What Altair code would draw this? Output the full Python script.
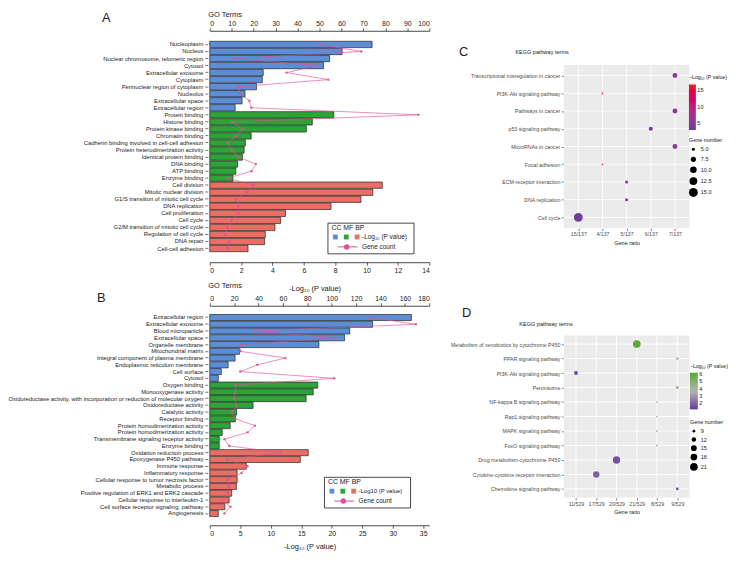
import altair as alt
import pandas as pd

FONT = "Liberation Sans"
DARK = "#1a1a1a"
BLUE, GREEN, RED, PINK = "#5b8ed6", "#2ea338", "#eb6e64", "#dd4f97"

# ---------------- Panel A data ----------------
a_terms = ["Nucleoplasm", "Nucleus", "Nuclear chromosome, telomeric region", "Cytosol",
           "Extracellular exosome", "Cytoplasm", "Perinuclear region of cytoplasm", "Nucleolus",
           "Extracellular space", "Extracellular region",
           "Protein binding", "Histone binding", "Protein kinase binding", "Chromatin binding",
           "Cadherin binding involved in cell-cell adhesion", "Protein heterodimerization activity",
           "Identical protein binding", "DNA binding", "ATP binding", "Enzyme binding",
           "Cell division", "Mitotic nuclear division", "G1/S transition of mitotic cell cycle",
           "DNA replication", "Cell proliferation", "Cell cycle",
           "G2/M transition of mitotic cell cycle", "Regulation of cell cycle", "DNA repair",
           "Cell-cell adhesion"]
a_cat = ["CC"] * 10 + ["MF"] * 10 + ["BP"] * 10
a_logp = [10.35, 8.44, 7.64, 7.25, 3.41, 3.35, 2.98, 2.25, 2.06, 1.62,
          7.91, 6.54, 6.16, 2.64, 2.27, 2.19, 2.08, 1.77, 1.66, 1.48,
          11.0, 10.4, 9.64, 7.73, 4.83, 4.52, 4.16, 3.54, 3.50, 2.44]
a_count = [50, 69, 11, 49, 35, 54, 13, 14, 18, 19,
           95, 10, 15, 12, 8, 10, 13, 21, 19, 8,
           20, 17, 12, 13, 13, 10, 8, 7, 9, 8]

# ---------------- Panel B data ----------------
b_terms = ["Extracellular region", "Extracellular exosome", "Blood microparticle",
           "Extracellular space", "Organelle membrane", "Mitochondrial matrix",
           "Integral component of plasma membrane", "Endoplasmic reticulum membrane",
           "Cell surface", "Cytosol",
           "Oxygen binding", "Monooxygenase activity",
           "Oxidoreductase activity, with incorporation or reduction of molecular oxygen",
           "Oxidoreductase activity", "Catalytic activity", "Receptor binding",
           "Protein homodimerization activity", "Protein homodimerization activity\u200b",
           "Transmembrane signaling receptor activity", "Enzyme binding",
           "Oxidation reduction process", "Epoxygenase P450 pathway", "Immune response",
           "Inflammatory response", "Cellular response to tumor necrosis factor",
           "Metabolic process", "Positive regulation of ERK1 and ERK2 cascade",
           "Cellular response to interleukin-1", "Cell surface receptor signaling, pathway",
           "Angiogenesis"]
b_cat = ["CC"] * 10 + ["MF"] * 10 + ["BP"] * 10
b_logp = [33.06, 26.7, 22.95, 22.1, 17.9, 4.86, 4.15, 3.02, 1.89, 1.4,
          17.7, 16.96, 15.8, 7.1, 4.4, 4.2, 3.35, 2.05, 1.56, 1.56,
          16.15, 14.85, 6.0, 4.48, 4.5, 4.37, 3.6, 3.18, 2.48, 1.4]
b_count = [132, 169, 36, 103, 25, 25, 62, 39, 25, 102,
           21, 21, 20, 22, 18, 21, 37, 31, 12, 16,
           58, 14, 31, 26, 14, 16, 15, 10, 17, 12]

# ---------------- Panel C data ----------------
c_terms = ["Transcriptional misregulation in cancer", "PI3K-Akt signaling pathway",
           "Pathways in cancer", "p53 signaling pathway", "MicroRNAs in cancer",
           "Focal adhesion", "ECM-receptor interaction", "DNA replication", "Cell cycle"]
c_ratio = ["7/137", "4/137", "7/137", "6/137", "7/137", "4/137", "5/137", "5/137", "15/137"]
c_genes = [7, 4, 7, 6, 7, 4, 5, 5, 15]
c_logp = [5.5, 16.5, 6.0, 4.0, 5.5, 16.5, 5.0, 5.0, 3.6]
c_order = ["15/137", "4/137", "5/137", "6/137", "7/137"]

# ---------------- Panel D data ----------------
d_terms = ["Metabolism of xenobiotics by cytochrome P450", "PPAR signaling pathway",
           "PI3K-Akt signaling pathway", "Peroxisome", "NF-kappa B signaling pathway",
           "Rap1 signaling pathway", "MAPK signaling pathway", "FoxO signaling pathway",
           "Drug metabolism-cytochrome P450", "Cytokine-cytokine receptor interaction",
           "Chemokine signaling pathway"]
d_ratio = ["21/529", "9/529", "11/529", "9/529", "8/529", "8/529", "8/529", "8/529",
           "20/529", "17/529", "9/529"]
d_genes = [21, 9, 11, 9, 8, 8, 8, 8, 20, 17, 9]
d_logp = [6.0, 3.6, 1.5, 5.0, 3.4, 3.4, 3.4, 3.4, 1.6, 1.9, 1.5]
d_order = ["11/529", "17/529", "20/529", "21/529", "8/529", "9/529"]


def one(text):
    return pd.DataFrame({"t": [text]})


def label(text, x, y, size, align="left", color=DARK):
    return alt.Chart(one(text)).mark_text(
        align=align, baseline="middle", fontSize=size, font=FONT, color=color
    ).encode(text="t:N", x=alt.value(x), y=alt.value(y))


def swatch(color, x, y):
    return alt.Chart(one(color)).mark_square(size=24, color=color, opacity=1, filled=True).encode(
        x=alt.value(x), y=alt.value(y))


def box(x1, x2, y1, y2, fill="white", stroke=DARK, sw=0.8):
    return alt.Chart(one("")).mark_rect(fill=fill, stroke=stroke, strokeWidth=sw).encode(
        x=alt.value(x1), x2=alt.value(x2), y=alt.value(y1), y2=alt.value(y2))


def seg(x1, x2, y):
    return alt.Chart(one("")).mark_rule(color=PINK, strokeWidth=1).encode(
        x=alt.value(x1), x2=alt.value(x2), y=alt.value(y))


def dot(x, y):
    return alt.Chart(one("")).mark_circle(color=PINK, size=30, opacity=1).encode(
        x=alt.value(x), y=alt.value(y))


def go_legend(bx, by, legend_text, legend_size):
    return [
        box(bx, bx + 87, by, by + 31),
        label("CC MF BP", bx + 3.5, by + 5, 7),
        swatch(BLUE, bx + 7.5, by + 14),
        swatch(GREEN, bx + 18.5, by + 14),
        swatch(RED, bx + 29.5, by + 14),
        label(legend_text, bx + 34.5, by + 14, legend_size),
        seg(bx + 10, bx + 30, by + 24),
        dot(bx + 19, by + 24),
        label("Gene count", bx + 34.5, by + 24, 6.5),
    ]


NUM_AXIS = dict(labelFontSize=7, labelColor=DARK, tickSize=3, tickWidth=0.7, tickColor=DARK,
                domainColor=DARK, domainWidth=0.8, labelPadding=1, grid=False,
                titleFontSize=7.5, titleFontWeight="normal", titleColor=DARK)


def go_panel(terms, cats, logp, counts, width, height, axis_off, label_size,
             x_max, x_vals, top_max, top_vals, top_title_y, bottom_title_x, bottom_title_y,
             extras):
    df = pd.DataFrame({"term": terms, "cat": cats, "logp": logp, "count": counts,
                       "idx": list(range(len(terms)))})
    y = alt.Y("term:N", sort=terms, title=None,
              scale=alt.Scale(paddingInner=0.1, paddingOuter=1),
              axis=alt.Axis(labelFontSize=label_size, labelColor=DARK, labelLimit=400,
                            labelPadding=2, tickSize=3, tickWidth=0.6, tickColor=DARK,
                            domain=False, offset=2, grid=False))
    bars = alt.Chart(df).mark_bar(stroke="#262626", strokeWidth=0.7).encode(
        x=alt.X("logp:Q", scale=alt.Scale(domain=[0, x_max], nice=False),
                axis=alt.Axis(orient="bottom", values=x_vals, title="-Log\u2081\u2080 (P value)",
                              titleX=bottom_title_x, titleY=bottom_title_y, titleAlign="center",
                              titleBaseline="middle", offset=axis_off, **NUM_AXIS)),
        y=y,
        color=alt.Color("cat:N", scale=alt.Scale(domain=["CC", "MF", "BP"],
                                                 range=[BLUE, GREEN, RED]), legend=None),
    )
    line = alt.Chart(df).mark_line(
        color=PINK, strokeWidth=0.8, opacity=0.8,
        point=alt.OverlayMarkDef(color=PINK, size=6, filled=True, opacity=0.9),
    ).encode(
        x=alt.X("count:Q", scale=alt.Scale(domain=[0, top_max], nice=False),
                axis=alt.Axis(orient="top", values=top_vals, title="GO Terms", titleX=-2,
                              titleY=top_title_y, titleAlign="left", titleBaseline="middle",
                              titleAngle=0, offset=axis_off, **NUM_AXIS)),
        y=y,
        order="idx:Q",
    )
    return alt.layer(bars, line, *extras).resolve_scale(x="independent").properties(
        width=width, height=height)


KAXIS = dict(labelFontSize=5.3, labelColor="#4d4d4d", tickSize=2.5, tickColor="#333333",
             tickWidth=0.6, domain=False, grid=False, labelPadding=1.5, titleFontSize=5.6,
             titleFontWeight="normal", titleColor=DARK, titlePadding=3)


def kegg_panel(terms, ratios, genes, logp, order, width, height, top, bottom, size_dom,
               size_rng, size_vals, size_fmt, col_dom, col_rng, col_vals, grad_len,
               grad_thick, col_xy, size_xy, row_pad, extras):
    # the grey panel occupies rows top..bottom of a taller view, so that it sits
    # vertically where the reference puts it
    df = pd.DataFrame({"term": terms, "ratio": ratios, "genes": genes, "logp": logp})
    xenc = alt.X("ratio:N", sort=order, title="Gene ratio",
                 scale=alt.Scale(type="point", padding=0.6),
                 axis=alt.Axis(labelAngle=0, offset=-(height - bottom), **KAXIS))
    yenc = alt.Y("term:N", sort=terms, title=None,
                 scale=alt.Scale(type="point", padding=0.6, range=[top, bottom]),
                 axis=alt.Axis(labelLimit=400, **KAXIS))
    bg = box(0, width, top, bottom, fill="#ebebeb", stroke="#ebebeb", sw=0)
    hgrid = alt.Chart(df).mark_rule(color="white", strokeWidth=0.9).encode(
        y=yenc, x=alt.value(0), x2=alt.value(width))
    vgrid = alt.Chart(pd.DataFrame({"ratio": order})).mark_rule(
        color="white", strokeWidth=0.9).encode(x=xenc, y=alt.value(top), y2=alt.value(bottom))
    pts = alt.Chart(df).mark_circle(opacity=1).encode(
        x=xenc,
        y=yenc,
        size=alt.Size("genes:Q", scale=alt.Scale(domain=size_dom, range=size_rng),
                      legend=alt.Legend(title="Gene number", orient="none",
                                        legendX=size_xy[0], legendY=size_xy[1] + top,
                                        values=size_vals, format=size_fmt, symbolType="circle",
                                        symbolFillColor="black", symbolStrokeWidth=0,
                                        symbolOpacity=1, titleFontSize=5.5,
                                        titleFontWeight="normal", labelFontSize=5.6,
                                        titleColor=DARK, labelColor=DARK, labelOffset=3,
                                        rowPadding=row_pad, titlePadding=3)),
        color=alt.Color("logp:Q", scale=alt.Scale(domain=col_dom, range=col_rng),
                        legend=alt.Legend(title="\u2212Log\u2081\u2080 (P value)", orient="none",
                                          legendX=col_xy[0], legendY=col_xy[1] + top,
                                          values=col_vals, gradientLength=grad_len,
                                          gradientThickness=grad_thick, direction="vertical",
                                          titleFontSize=5.3, titleFontWeight="normal",
                                          labelFontSize=5.6, titleColor=DARK,
                                          labelColor=DARK, labelOffset=1.5,
                                          gradientStrokeWidth=0, titlePadding=4)),
    )
    return alt.layer(bg, hgrid, vgrid, pts, *extras).properties(width=width, height=height)


W = 222
A = go_panel(a_terms, a_cat, a_logp, a_count, W, 227, 3.5, 5.9,
             14, list(range(0, 15, 2)), 100, list(range(0, 101, 10)), -16, 106, 27,
             [label("A", -109, -16.5, 13)] + go_legend(119.5, 191, "-Log\u2081\u2080 (P value)", 6.5))

B = go_panel(b_terms, b_cat, b_logp, b_count, W, 218, 2, 5.9,
             36, list(range(0, 36, 5)), 180, list(range(0, 181, 20)), -20, 101, 21,
             [label("B", -114, -9.5, 13)] + go_legend(116, 171.5, "-Log10 (P value)", 6))

CT, DT = 31, 28
C = kegg_panel(c_terms, c_ratio, c_genes, c_logp, c_order, 127, 227, CT, CT + 165,
               [4, 15], [3, 80], [5, 7.5, 10, 12.5, 15], ".1f",
               [3.0, 10.0, 16.8], ["#6a3f9e", "#c2207f", "#e52420"], [5, 10, 15], 46, 7,
               (126.5, 10.5), (126.5, 74), 3,
               [label("C", -106, CT - 13, 13),
                label("KEGG pathway terms", -22, CT - 13, 5.6, "center")])

D = kegg_panel(d_terms, d_ratio, d_genes, d_logp, d_order, 127, 218, DT, DT + 164,
               [8, 21], [3, 60], [9, 12, 15, 18, 21], "d",
               [1.1, 3.6, 6.2], ["#5e3c99", "#b3b3b3", "#4dac26"], [2, 3, 4, 5, 6], 37, 8,
               (127.5, 28.5), (127.5, 85.5), 1.5,
               [label("D", -103, DT - 23, 13),
                label("KEGG pathway terms", -18, DT - 11, 5.6, "center")])

chart = alt.concat(
    A, C, B, D, columns=2, spacing={"row": 49.5, "column": 136}, bounds="flush",
    align="each",
    autosize=alt.AutoSizeParams(type="none"),
    padding={"left": 204, "top": 23.5, "right": 524, "bottom": 522.5},
).resolve_scale(size="independent", color="independent").resolve_legend(
    size="independent", color="independent"
).configure(font=FONT).configure_view(stroke="transparent")

chart.save("out.html", embed_options={"renderer": "svg", "actions": False})
